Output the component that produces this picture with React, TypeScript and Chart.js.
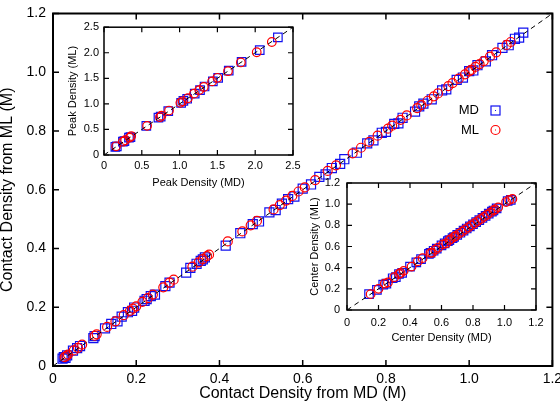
import React, { useEffect, useRef } from 'react';
import { Chart, registerables } from 'chart.js';
Chart.register(...registerables);

const FONT = '"Liberation Sans", Arial, Helvetica, sans-serif';

// ---- Main plot: contact density ----
const mainMdX = [0.023,0.026,0.030,0.034,0.048,0.058,0.065,0.097,0.100,0.125,0.140,0.155,0.165,0.180,0.190,0.195,0.220,0.225,0.235,0.245,0.270,0.280,0.320,0.330,0.345,0.355,0.360,0.365,0.415,0.450,0.480,0.495,0.520,0.535,0.550,0.565,0.580,0.600,0.620,0.640,0.655,0.670,0.690,0.700,0.730,0.755,0.770,0.790,0.800,0.820,0.830,0.840,0.870,0.880,0.890,0.910,0.935,0.945,0.970,0.985,1.000,1.010,1.020,1.040,1.055,1.080,1.095,1.110,1.120,1.130];
const mainMdY = [0.025,0.030,0.028,0.036,0.052,0.061,0.068,0.095,0.102,0.128,0.143,0.152,0.168,0.183,0.188,0.199,0.222,0.228,0.238,0.243,0.272,0.284,0.318,0.334,0.348,0.358,0.363,0.370,0.410,0.452,0.483,0.492,0.523,0.531,0.553,0.568,0.577,0.604,0.618,0.644,0.652,0.674,0.688,0.704,0.726,0.758,0.768,0.794,0.797,0.824,0.826,0.845,0.866,0.884,0.893,0.908,0.938,0.942,0.974,0.982,1.004,1.006,1.024,1.037,1.058,1.083,1.092,1.114,1.118,1.135];
const mainMlX = [0.028,0.032,0.036,0.050,0.060,0.070,0.100,0.105,0.130,0.150,0.170,0.185,0.192,0.200,0.215,0.228,0.240,0.265,0.280,0.290,0.335,0.350,0.360,0.370,0.375,0.420,0.455,0.475,0.490,0.530,0.545,0.560,0.575,0.590,0.605,0.630,0.660,0.680,0.720,0.740,0.760,0.780,0.805,0.815,0.835,0.850,0.875,0.885,0.900,0.915,0.925,0.950,0.960,0.975,0.990,1.000,1.005,1.015,1.025,1.035,1.050,1.065,1.090,1.100];
const mainMlY = [0.030,0.034,0.039,0.053,0.062,0.073,0.103,0.108,0.133,0.152,0.173,0.188,0.195,0.203,0.218,0.231,0.243,0.268,0.284,0.294,0.338,0.353,0.364,0.374,0.379,0.424,0.458,0.479,0.494,0.533,0.548,0.563,0.579,0.594,0.608,0.633,0.664,0.683,0.724,0.743,0.763,0.784,0.808,0.818,0.838,0.853,0.878,0.888,0.903,0.918,0.928,0.953,0.963,0.978,0.993,1.003,1.008,1.018,1.028,1.038,1.053,1.068,1.093,1.103];

// ---- Inset 1: peak density ----
const peakMdX = [0.15,0.17,0.25,0.27,0.33,0.35,0.56,0.72,0.75,0.85,1.02,1.05,1.10,1.20,1.27,1.33,1.44,1.51,1.65,1.82,2.06,2.30];
const peakMdY = [0.16,0.17,0.26,0.27,0.34,0.35,0.57,0.73,0.75,0.86,1.02,1.06,1.10,1.20,1.27,1.34,1.44,1.51,1.65,1.82,2.05,2.30];
const peakMlX = [0.16,0.25,0.28,0.34,0.36,0.57,0.74,0.76,0.86,1.01,1.04,1.11,1.19,1.26,1.32,1.43,1.50,1.64,1.81,2.02,2.22];
const peakMlY = [0.17,0.26,0.29,0.34,0.37,0.57,0.74,0.77,0.87,1.02,1.05,1.11,1.20,1.27,1.33,1.44,1.51,1.64,1.81,2.01,2.21];

// ---- Inset 2: center density ----
const centerMdX = [0.14,0.19,0.23,0.25,0.29,0.31,0.33,0.35,0.40,0.44,0.47,0.52,0.53,0.55,0.57,0.60,0.62,0.64,0.65,0.67,0.68,0.70,0.72,0.74,0.76,0.78,0.80,0.82,0.84,0.86,0.88,0.90,0.92,0.93,0.95,1.02,1.04];
const centerMdY = [0.15,0.19,0.24,0.25,0.30,0.31,0.34,0.35,0.41,0.45,0.48,0.53,0.54,0.56,0.58,0.61,0.63,0.65,0.66,0.68,0.69,0.71,0.73,0.75,0.77,0.79,0.81,0.83,0.85,0.87,0.89,0.91,0.93,0.94,0.96,1.03,1.04];
const centerMlX = [0.15,0.20,0.24,0.26,0.30,0.33,0.34,0.36,0.41,0.45,0.48,0.53,0.54,0.56,0.58,0.61,0.63,0.65,0.66,0.68,0.69,0.71,0.73,0.75,0.77,0.79,0.81,0.83,0.85,0.87,0.89,0.91,0.93,0.94,0.96,1.01,1.03,1.05];
const centerMlY = [0.15,0.20,0.25,0.26,0.31,0.34,0.35,0.37,0.41,0.46,0.49,0.54,0.54,0.57,0.59,0.62,0.63,0.66,0.67,0.69,0.70,0.72,0.74,0.76,0.78,0.80,0.82,0.84,0.86,0.88,0.90,0.92,0.94,0.95,0.97,1.02,1.04,1.05];

const seriesNames = ['MD', 'ML'];
const BLUE = '#1010f0';
const RED = '#ff0000';

const toPts = (xs: number[], ys: number[]) => xs.map((x, i) => ({ x, y: ys[i] }));

const framePlugin = {
  id: 'frame',
  afterDatasetsDraw(chart: any, _args: any, opts: any) {
    const { ctx, chartArea: a, scales } = chart;
    ctx.save();
    ctx.strokeStyle = '#000';
    ctx.lineWidth = opts.tickWidth;
    const L = opts.tickLen;
    ctx.beginPath();
    for (const t of scales.x.ticks) {
      const px = scales.x.getPixelForValue(t.value);
      ctx.moveTo(px, a.bottom); ctx.lineTo(px, a.bottom - L);
      ctx.moveTo(px, a.top); ctx.lineTo(px, a.top + L);
    }
    for (const t of scales.y.ticks) {
      const py = scales.y.getPixelForValue(t.value);
      ctx.moveTo(a.left, py); ctx.lineTo(a.left + L, py);
      ctx.moveTo(a.right, py); ctx.lineTo(a.right - L, py);
    }
    ctx.stroke();
    ctx.lineWidth = opts.lineWidth;
    ctx.strokeRect(a.left, a.top, a.right - a.left, a.bottom - a.top);
    if (opts.legend) {
      const lg = opts.legend;
      ctx.font = `${lg.fontSize}px ${FONT}`;
      ctx.fillStyle = '#000';
      ctx.textAlign = 'right';
      ctx.textBaseline = 'middle';
      ctx.fillText(seriesNames[0], lg.textRight, lg.y0);
      ctx.fillText(seriesNames[1], lg.textRight, lg.y1);
      ctx.lineWidth = 1.2;
      ctx.strokeStyle = BLUE;
      ctx.strokeRect(lg.symX - 4.5, lg.y0 - 4.5, 9, 9);
      ctx.fillStyle = BLUE;
      ctx.fillRect(lg.symX - 0.5, lg.y0 - 0.5, 1, 1);
      ctx.strokeStyle = RED;
      ctx.beginPath();
      ctx.arc(lg.symX, lg.y1, 4.5, 0, Math.PI * 2);
      ctx.stroke();
      ctx.fillStyle = RED;
      ctx.fillRect(lg.symX - 0.5, lg.y1 - 0.5, 1, 1);
    }
    ctx.restore();
  },
};

function axis(o: any) {
  const isX = o.isX;
  return {
    type: 'linear',
    min: o.min,
    max: o.max,
    ticks: {
      stepSize: o.step,
      autoSkip: false,
      maxRotation: 0,
      color: '#000',
      padding: o.pad,
      font: { size: o.fs, family: FONT },
    },
    grid: { display: false, drawTicks: false },
    border: { display: false },
    title: {
      display: true,
      text: o.title,
      color: '#000',
      font: { size: o.tfs, family: FONT, lineHeight: 1 },
      padding: isX ? { top: 0, bottom: o.tpad } : { top: o.tpad, bottom: 0 },
    },
    afterFit(s: any) {
      if (isX) { s.height = o.size; s.paddingLeft = 0; s.paddingRight = 0; }
      else { s.width = o.size; s.paddingTop = 0; s.paddingBottom = 0; }
    },
  };
}

function makeConfig(c: any) {
  return {
    type: 'scatter',
    data: {
      datasets: [
        {
          type: 'line',
          data: [{ x: 0, y: 0 }, { x: c.max, y: c.max }],
          borderColor: '#000',
          borderWidth: 1,
          borderDash: [5, 4],
          pointRadius: 0,
          order: 0,
        },
        {
          label: seriesNames[1],
          data: toPts(c.mlX, c.mlY),
          pointStyle: 'circle',
          pointRadius: c.cr,
          borderColor: RED,
          backgroundColor: 'rgba(0,0,0,0)',
          borderWidth: 1.2,
          order: 1,
        },
        {
          label: seriesNames[0],
          data: toPts(c.mdX, c.mdY),
          pointStyle: 'rect',
          pointRadius: c.sr,
          borderColor: BLUE,
          backgroundColor: 'rgba(0,0,0,0)',
          borderWidth: 1.2,
          order: 2,
        },
      ],
    },
    options: {
      responsive: false,
      animation: false,
      events: [],
      layout: { padding: c.padding },
      scales: { x: c.x, y: c.y },
      plugins: {
        legend: { display: false },
        tooltip: { enabled: false },
        frame: c.frame,
      },
    },
    plugins: [framePlugin],
  };
}

function ChartCanvas(props: { cfg: any; left: number; top: number; width: number; height: number }) {
  const ref = useRef<HTMLCanvasElement>(null);
  useEffect(() => {
    if (!ref.current) return;
    const chart = new Chart(ref.current, props.cfg);
    return () => chart.destroy();
  }, []);
  return (
    <canvas
      ref={ref}
      width={props.width}
      height={props.height}
      style={{ position: 'absolute', left: props.left, top: props.top, width: props.width, height: props.height }}
    />
  );
}

const mainCfg = makeConfig({
  max: 1.2, mdX: mainMdX, mdY: mainMdY, mlX: mainMlX, mlY: mainMlY, sr: 6.4, cr: 4.5,
  padding: { top: 13.5, right: 7, left: 0, bottom: 0 },
  x: axis({ isX: true, min: 0, max: 1.2, step: 0.2, pad: 5, fs: 14, title: 'Contact Density from MD (M)', tfs: 16, tpad: 4, size: 40 }),
  y: axis({ isX: false, min: 0, max: 1.2, step: 0.2, pad: 7, fs: 14, title: 'Contact Density from ML (M)', tfs: 16, tpad: -0.5, size: 53 }),
  frame: { lineWidth: 2, tickWidth: 1.5, tickLen: 6, legend: { fontSize: 13, textRight: 479, symX: 495.5, y0: 110.5, y1: 130 } },
});

const peakCfg = makeConfig({
  max: 2.5, mdX: peakMdX, mdY: peakMdY, mlX: peakMlX, mlY: peakMlY, sr: 6, cr: 4.3,
  padding: { top: 7, right: 13, left: 0, bottom: 0 },
  x: axis({ isX: true, min: 0, max: 2.5, step: 0.5, pad: 4, fs: 11, title: 'Peak Density (MD)', tfs: 11, tpad: 11.5, size: 45 }),
  y: axis({ isX: false, min: 0, max: 2.5, step: 0.5, pad: 5, fs: 11, title: 'Peak Density (ML)', tfs: 11, tpad: 11.5, size: 48 }),
  frame: { lineWidth: 1.5, tickWidth: 1.2, tickLen: 5 },
});

const centerCfg = makeConfig({
  max: 1.2, mdX: centerMdX, mdY: centerMdY, mlX: centerMlX, mlY: centerMlY, sr: 6, cr: 4.3,
  padding: { top: 11, right: 24, left: 0, bottom: 0 },
  x: axis({ isX: true, min: 0, max: 1.2, step: 0.2, pad: 6, fs: 11, title: 'Center Density (MD)', tfs: 11, tpad: 8.5, size: 42 }),
  y: axis({ isX: false, min: 0, max: 1.2, step: 0.2, pad: 7, fs: 11, title: 'Center Density (ML)', tfs: 11, tpad: 9.5, size: 47 }),
  frame: { lineWidth: 1.5, tickWidth: 1.2, tickLen: 5 },
});

export default function App() {
  return (
    <div style={{ position: 'fixed', left: 0, top: 0, width: 560, height: 406, background: '#fff', overflow: 'hidden' }}>
      <ChartCanvas cfg={mainCfg} left={0} top={0} width={560} height={406} />
      <ChartCanvas cfg={peakCfg} left={56} top={20} width={250} height={180} />
      <ChartCanvas cfg={centerCfg} left={300} top={172} width={260} height={180} />
    </div>
  );
}
